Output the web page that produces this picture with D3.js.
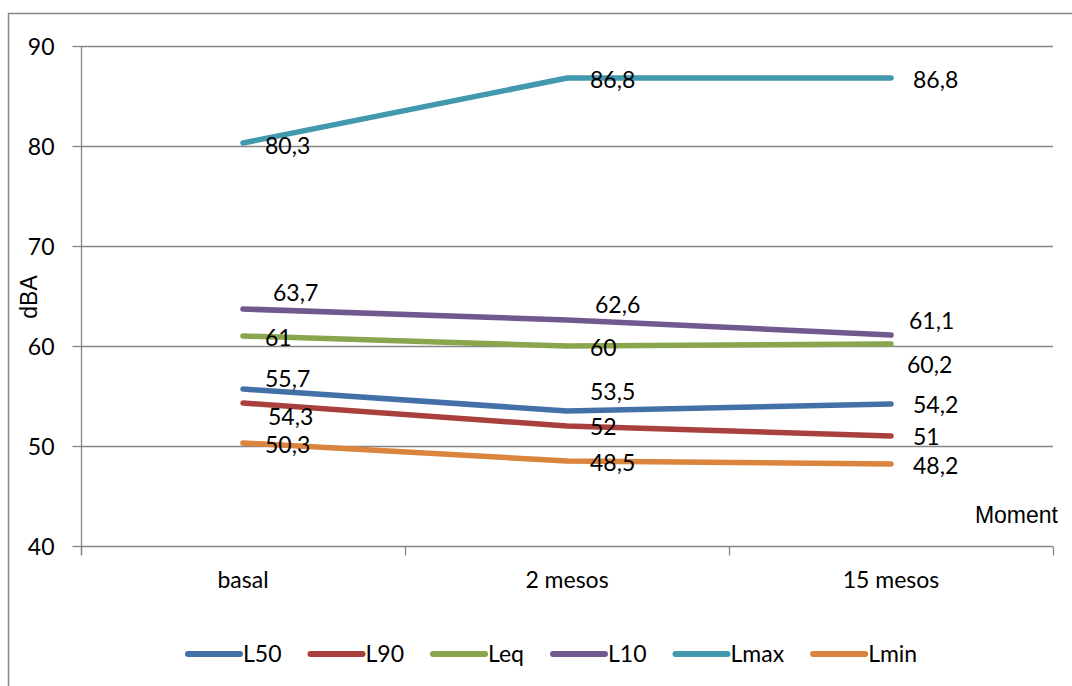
<!DOCTYPE html>
<html>
<head>
<meta charset="utf-8">
<script src="https://cdn.jsdelivr.net/npm/d3@7"></script>
<style>
  html, body { margin: 0; padding: 0; background: #fff; }
  svg { display: block; }
</style>
</head>
<body>
<svg id="chart" width="1072" height="686"></svg>
<script>
// Noise levels (dBA) per measurement moment
const categories = ["basal", "2 mesos", "15 mesos"];
const seriesNames = ["L50", "L90", "Leq", "L10", "Lmax", "Lmin"];
const L50 = [55.7, 53.5, 54.2];
const L90 = [54.3, 52, 51];
const Leq = [61, 60, 60.2];
const L10 = [63.7, 62.6, 61.1];
const Lmax = [80.3, 86.8, 86.8];
const Lmin = [50.3, 48.5, 48.2];
const yTicks = [40, 50, 60, 70, 80, 90];
const yTitle = "dBA";
const xTitle = "Moment";

// Presentation
const colors = ["#4470A8", "#A9403D", "#89A54E", "#71588F", "#4198AF", "#DB843D"];
// hand-placed data label nudges [dx, dy] relative to each point
const labelNudge = [
  [[22, -10], [23, -19], [22, 1]],
  [[25, 14], [23, 1], [22, 1]],
  [[22, 2], [23, 2], [16, 21]],
  [[30, -16], [28, -15], [18, -14]],
  [[22, 3], [23, 2], [22, 2]],
  [[22, 2], [23, 2], [22, 2]]
];

const values = [L50, L90, Leq, L10, Lmax, Lmin];
const series = seriesNames.map((name, i) => ({ name, color: colors[i], values: values[i], nudge: labelNudge[i] }));

const svg = d3.select("#chart");
const numFont = "Lato, 'Open Sans', sans-serif";
const titleFont = "'Liberation Sans', Arial, sans-serif";
const gridColor = "#868686";

const plot = { left: 81, right: 1053, top: 46, bottom: 546 };

const x = d3.scaleBand().domain(categories).range([plot.left, plot.right]).paddingInner(0).paddingOuter(0);
const xc = c => x(c) + x.bandwidth() / 2;
const y = d3.scaleLinear().domain([40, 90]).range([plot.bottom, plot.top]);

// Outer chart frame
svg.append("rect")
  .attr("x", 8.5).attr("y", 13.5)
  .attr("width", 1100).attr("height", 700)
  .attr("fill", "none").attr("stroke", gridColor).attr("stroke-width", 1.5);

// Horizontal gridlines
svg.append("g")
  .selectAll("line")
  .data(yTicks.filter(t => t !== 40))
  .join("line")
  .attr("x1", plot.left).attr("x2", plot.right)
  .attr("y1", d => Math.round(y(d)) + 0.5).attr("y2", d => Math.round(y(d)) + 0.5)
  .attr("stroke", gridColor).attr("stroke-width", 1.3);

// Y axis
const yAxis = svg.append("g")
  .attr("transform", `translate(${plot.left + 0.5},0)`)
  .call(d3.axisLeft(y).tickValues(yTicks).tickSize(9).tickPadding(18).tickFormat(d3.format("d")));
yAxis.select(".domain").attr("d", `M0,${plot.top}V${plot.bottom + 9}`).attr("stroke", gridColor).attr("stroke-width", 1.3);
yAxis.selectAll(".tick line").attr("stroke", gridColor).attr("stroke-width", 1.3);
yAxis.selectAll(".tick text")
  .attr("font-family", numFont).attr("font-size", 23).attr("fill", "#000")
  .attr("dy", "0.35em");

// X axis
const xAxis = svg.append("g")
  .attr("transform", `translate(0,${plot.bottom + 0.5})`)
  .call(d3.axisBottom(x).tickSize(0).tickPadding(25));
xAxis.select(".domain").attr("d", `M${plot.left},0H${plot.right}`).attr("stroke", gridColor).attr("stroke-width", 1.3);
xAxis.selectAll(".tick text")
  .attr("font-family", numFont).attr("font-size", 23).attr("fill", "#000");
// category boundary ticks
const bounds = categories.map(c => x(c)).concat([x(categories[categories.length - 1]) + x.bandwidth()]);
xAxis.selectAll("line.bound")
  .data(bounds)
  .join("line")
  .attr("class", "bound")
  .attr("x1", d => Math.round(d) + 0.5).attr("x2", d => Math.round(d) + 0.5)
  .attr("y1", 0).attr("y2", 9)
  .attr("stroke", gridColor).attr("stroke-width", 1.3);

// Axis titles
svg.append("text")
  .attr("transform", `translate(37,297) rotate(-90)`)
  .attr("text-anchor", "middle")
  .attr("font-family", titleFont).attr("font-size", 23).attr("fill", "#000")
  .text(yTitle);
svg.append("text")
  .attr("x", 1058).attr("y", 523)
  .attr("text-anchor", "end")
  .attr("font-family", titleFont).attr("font-size", 23).attr("fill", "#000")
  .text(xTitle);

// Series lines
const line = d3.line().x((d, i) => xc(categories[i])).y(d => y(d));
svg.append("g")
  .selectAll("path")
  .data(series)
  .join("path")
  .attr("d", s => line(s.values))
  .attr("fill", "none")
  .attr("stroke", s => s.color)
  .attr("stroke-width", 5.5)
  .attr("stroke-linecap", "round")
  .attr("stroke-linejoin", "round");

// Data labels
const fmt = v => String(v).replace(".", ",");
const labels = svg.append("g");
series.forEach(s => {
  s.values.forEach((v, i) => {
    labels.append("text")
      .attr("x", xc(categories[i]) + s.nudge[i][0])
      .attr("y", y(v) + s.nudge[i][1] + 8)
      .attr("font-family", numFont).attr("font-size", 23).attr("fill", "#000")
      .text(fmt(v));
  });
});

// Legend
const legend = svg.append("g");
let lx = 185;
const ly = 654;
series.forEach(s => {
  legend.append("line")
    .attr("x1", lx + 3).attr("x2", lx + 55)
    .attr("y1", ly).attr("y2", ly)
    .attr("stroke", s.color).attr("stroke-width", 6)
    .attr("stroke-linecap", "round");
  const t = legend.append("text")
    .attr("x", lx + 58).attr("y", ly + 8)
    .attr("font-family", numFont).attr("font-size", 23).attr("fill", "#000")
    .text(s.name);
  lx += 58 + t.node().getComputedTextLength() + 26;
});
</script>
</body>
</html>
